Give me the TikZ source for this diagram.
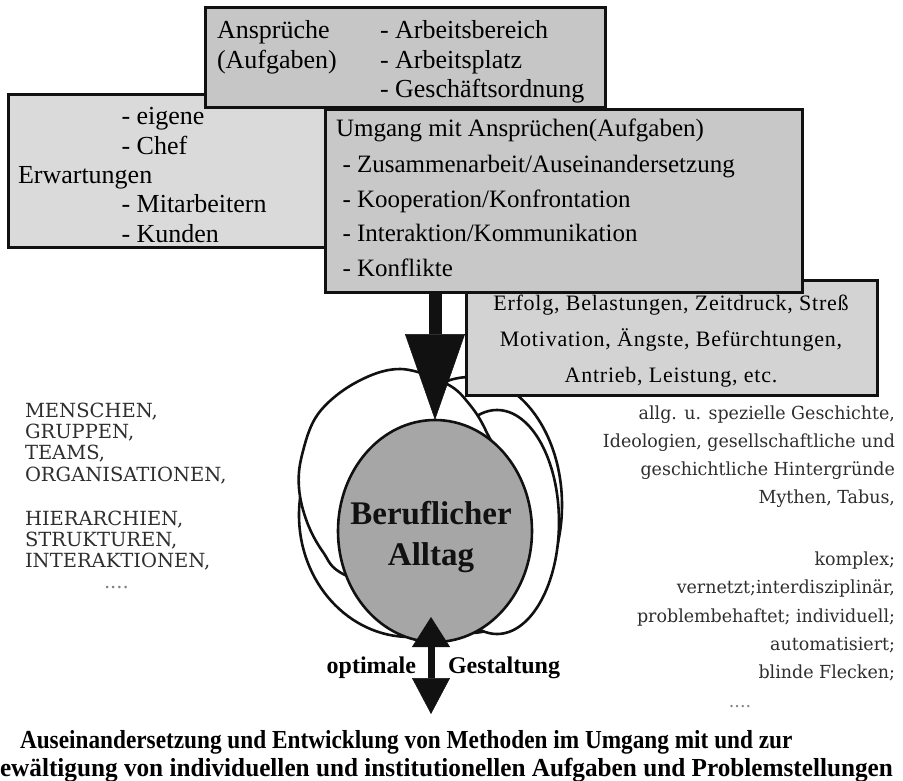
\documentclass[tikz,border=0pt]{standalone}
\usepackage{fontspec}
\setmainfont{Liberation Serif}
\newfontfamily\slabfont{DejaVu Serif}
\newfontfamily\slabnarrow[FakeStretch=0.97]{DejaVu Serif}
\newfontfamily\spacedfont[LetterSpace=3.5]{Liberation Serif}
\usetikzlibrary{shapes.geometric, arrows.meta}

\definecolor{shadeA}{HTML}{C6C6C6}
\definecolor{shadeB}{HTML}{DADADA}
\definecolor{shadeC}{HTML}{C8C8C8}
\definecolor{shadeD}{HTML}{D3D3D3}
\definecolor{core}{HTML}{A6A6A6}
\definecolor{ink}{HTML}{111111}
\definecolor{soft}{HTML}{2E2E2E}

\begin{document}
\begin{tikzpicture}[x=1pt, y=-1pt,
  panel/.style={draw=ink, line width=3pt, inner sep=0pt, outer sep=0pt, anchor=north west},
  ring/.style={draw=ink, line width=2.6pt, fill=white},
  btxt/.style={inner sep=0pt, outer sep=0pt, font=\fontsize{26}{30}\selectfont},
  ctxt/.style={inner sep=0pt, outer sep=0pt, font=\fontsize{25}{30}\selectfont},
  dtxt/.style={inner sep=0pt, outer sep=0pt, anchor=base, font=\spacedfont\fontsize{22}{30}\selectfont},
  ltxt/.style={inner sep=0pt, outer sep=0pt, anchor=base west, text=soft, font=\slabfont\fontsize{19.5}{21}\selectfont},
  rtxt/.style={inner sep=0pt, outer sep=0pt, anchor=base east, text=soft, font=\slabnarrow\fontsize{18}{21}\selectfont},
  boldtxt/.style={inner sep=0pt, outer sep=0pt, font=\bfseries\fontsize{24}{28}\selectfont},
  foot/.style={inner sep=0pt, outer sep=0pt, anchor=base west, font=\bfseries\fontsize{26}{30}\selectfont},
  bigarrow/.style={draw=ink, line width=13pt, -{Triangle[width=60pt, length=86pt, line width=0.5pt, fill=ink]}},
  dblarrow/.style={draw=ink, line width=7pt,
    {Triangle[width=38pt, length=30pt, line width=0.5pt, fill=ink]}-{Triangle[width=38pt, length=36pt, line width=0.5pt, fill=ink]}}
]
\useasboundingbox (0,0) rectangle (903,781);

% overlapping outline rings behind the core
\draw[ring] (410,515) ellipse [x radius=111pt, y radius=122pt];
\draw[ring] (470,505) ellipse [x radius=92pt, y radius=128pt];
\draw[ring] (497,522) ellipse [x radius=62pt, y radius=112pt];
\draw[ring] plot[smooth cycle, tension=0.6] coordinates {
  (400,369) (447,384) (470,405) (487,433) (505,480) (482,560) (420,600)
  (345,575) (323,552) (307,522) (299,488) (302,455) (318,414) (355,383)};

% core ellipse
\node[ellipse, draw=ink, line width=2.6pt, fill=core, minimum width=194pt, minimum height=222pt,
      inner sep=0pt, outer sep=0pt] (ell) at (435,531) {};
\node[inner sep=0pt, anchor=base, font=\bfseries\fontsize{33}{40}\selectfont, text=ink] (core1) at (431,524) {Beruflicher};
\node[inner sep=0pt, anchor=base, font=\bfseries\fontsize{33}{40}\selectfont, text=ink] (core2) at (431,565) {Alltag};

% panels
\node[panel, fill=shadeD, minimum width=411pt, minimum height=115pt] (D) at (466,280) {};
\node[panel, fill=shadeB, minimum width=317pt, minimum height=152pt] (B) at (8,95) {};
\node[panel, fill=shadeA, minimum width=400pt, minimum height=100pt] (A) at (205,8) {};
\node[panel, fill=shadeC, minimum width=477pt, minimum height=182pt] (C) at (325,110) {};

% panel A
\node[btxt, anchor=base west] (a1) at (217,39) {Ansprüche};
\node[btxt, anchor=base west] (a2) at (217,68.5) {(Aufgaben)};
\node[btxt, anchor=base west] (a3) at (380,39) {- Arbeitsbereich};
\node[btxt, anchor=base west] (a4) at (380,68.5) {- Arbeitsplatz};
\node[btxt, anchor=base west] (a5) at (380,98) {- Geschäftsordnung};

% panel B
\node[btxt, anchor=base west] (b1) at (121.5,124.5) {- eigene};
\node[btxt, anchor=base west] (b2) at (121.5,154.5) {- Chef};
\node[btxt, anchor=base west] (b3) at (18,184) {Erwartungen};
\node[btxt, anchor=base west] (b4) at (121.5,213) {- Mitarbeitern};
\node[btxt, anchor=base west] (b5) at (121.5,242) {- Kunden};

% panel C
\node[ctxt, anchor=base west] (c1) at (336,136.5) {Umgang mit Ansprüchen(Aufgaben)};
\node[ctxt, anchor=base west] (c2) at (342.5,172.5) {- Zusammenarbeit/Auseinandersetzung};
\node[ctxt, anchor=base west] (c3) at (342.5,207.5) {- Kooperation/Konfrontation};
\node[ctxt, anchor=base west] (c4) at (342.5,241.5) {- Interaktion/Kommunikation};
\node[ctxt, anchor=base west] (c5) at (342.5,276) {- Konflikte};

% panel D
\node[dtxt] (d1) at (671,310) {Erfolg, Belastungen, Zeitdruck, Streß};
\node[dtxt] (d2) at (671,346) {Motivation, Ängste, Befürchtungen,};
\node[dtxt] (d3) at (671,382.5) {Antrieb, Leistung, etc.};

% arrows
\draw[bigarrow] (ell.north |- C.south) -- (ell.north);
\coordinate (gtip) at (431,714);
\draw[dblarrow] ([xshift=-4pt, yshift=25pt]ell.south) -- (gtip);
\node[boldtxt, anchor=base east] (opt) at (416,673) {optimale};
\node[boldtxt, anchor=base west] (ges) at (448,673) {Gestaltung};

% left list
\node[ltxt] (m1) at (25,417) {MENSCHEN,};
\node[ltxt] (m2) at (25,438.5) {GRUPPEN,};
\node[ltxt] (m3) at (25,459.5) {TEAMS,};
\node[ltxt] (m4) at (25,481) {ORGANISATIONEN,};
\node[ltxt] (m5) at (25,525.5) {HIERARCHIEN,};
\node[ltxt] (m6) at (25,546.5) {STRUKTUREN,};
\node[ltxt] (m7) at (25,567.5) {INTERAKTIONEN,};
\node[ltxt, text=gray] (m8) at (104,588) {....};

% right list
\node[rtxt] (r1) at (895,419) {allg. u. spezielle Geschichte,};
\node[rtxt] (r2) at (895,447) {Ideologien, gesellschaftliche und};
\node[rtxt] (r3) at (895,475) {geschichtliche Hintergründe};
\node[rtxt] (r4) at (895,503.5) {Mythen, Tabus,};
\node[rtxt] (r5) at (895,565) {komplex;};
\node[rtxt] (r6) at (895,593.5) {vernetzt;interdisziplinär,};
\node[rtxt] (r7) at (895,622) {problembehaftet; individuell;};
\node[rtxt] (r8) at (895,650) {automatisiert;};
\node[rtxt] (r9) at (895,678.5) {blinde Flecken;};
\node[rtxt, text=gray, anchor=base] (r10) at (740,707) {....};

% closing statement
\node[foot] (f1) at (20,748) {\scalebox{0.895}[1]{Auseinandersetzung und Entwicklung von Methoden im Umgang mit und zur}};
\node[foot] (f2) at (0,776) {\scalebox{0.97}[1]{ewältigung von individuellen und institutionellen Aufgaben und Problemstellungen}};
\end{tikzpicture}
\end{document}
